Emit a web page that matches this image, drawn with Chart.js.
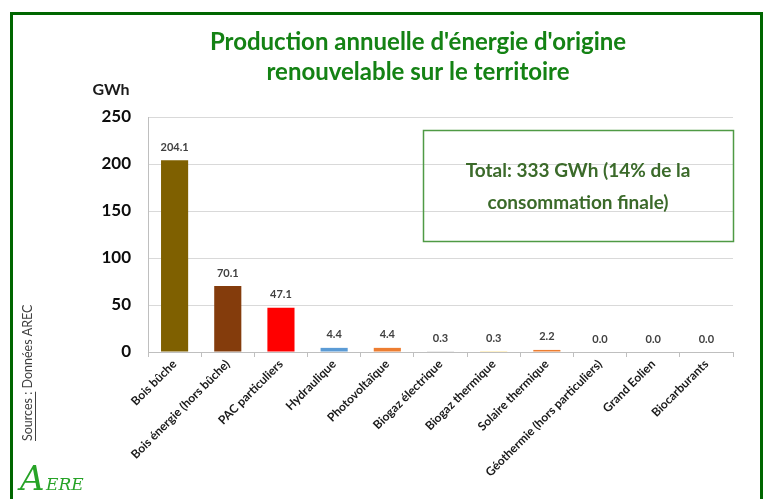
<!DOCTYPE html>
<html>
<head>
<meta charset="utf-8">
<script src="https://cdn.jsdelivr.net/npm/chart.js@4/dist/chart.umd.min.js"></script>
<style>
  html, body { margin: 0; padding: 0; background: #fff; }
  #chart { display: block; }
</style>
</head>
<body>
<canvas id="chart" width="764" height="499"></canvas>
<script>
// Production annuelle d'énergie renouvelable (GWh)
const categories = [
    'Bois bûche', 'Bois énergie (hors bûche)', 'PAC particuliers', 'Hydraulique',
    'Photovoltaïque', 'Biogaz électrique', 'Biogaz thermique', 'Solaire thermique',
    'Géothermie (hors particuliers)', 'Grand Eolien', 'Biocarburants'
];
const values = [204.1, 70.1, 47.1, 4.4, 4.4, 0.3, 0.3, 2.2, 0.0, 0.0, 0.0];
const barColors = [
    '#7f6000', '#843c0c', '#ff0000', '#5b9bd5', '#ed7d31', '#a5a5a5',
    '#ffc000', '#ed7d31', '#4472c4', '#70ad47', '#264478'
];
const yTicks = [0, 50, 100, 150, 200, 250];
const titleLines = ["Production annuelle d'énergie d'origine", 'renouvelable sur le territoire'];
const totalLines = ['Total: 333 GWh (14% de la', 'consommation finale)'];

const FONT = 'Lato, "Open Sans", sans-serif';

// Frame, titles, total box, source and logo
const decorPlugin = {
    id: 'decor',
    beforeDraw(chart) {
        const ctx = chart.ctx;
        ctx.save();
        ctx.fillStyle = '#fff';
        ctx.fillRect(0, 0, chart.width, chart.height);
        ctx.strokeStyle = '#006600';
        ctx.lineWidth = 3;
        ctx.strokeRect(11.5, 13.5, 750, 500);
        ctx.restore();
    },
    afterDraw(chart) {
        const ctx = chart.ctx;
        ctx.save();
        ctx.textAlign = 'center';
        ctx.textBaseline = 'middle';

        // title
        ctx.fillStyle = '#148214';
        ctx.font = 'bold 24px ' + FONT;
        ctx.fillText(titleLines[0], 418, 42);
        ctx.fillText(titleLines[1], 418, 72);

        // unit
        ctx.fillStyle = '#1a1a1a';
        ctx.font = 'bold 16px ' + FONT;
        ctx.fillText('GWh', 111, 90);

        // total box
        ctx.strokeStyle = '#4f9a45';
        ctx.lineWidth = 1.5;
        ctx.strokeRect(423.5, 130.5, 310, 111);
        ctx.fillStyle = '#3b6a2a';
        ctx.font = 'bold 19px ' + FONT;
        ctx.fillText(totalLines[0], 578, 171);
        ctx.fillText(totalLines[1], 578, 203);

        // source (vertical)
        ctx.save();
        ctx.translate(28, 441);
        ctx.rotate(-Math.PI / 2);
        ctx.textAlign = 'left';
        ctx.fillStyle = '#404040';
        ctx.font = '12.5px ' + FONT;
        const part1 = 'Sources :';
        ctx.fillText(part1 + ' Données AREC', 0, 0);
        const w1 = ctx.measureText(part1).width;
        ctx.fillRect(0, 7, w1, 1);
        ctx.restore();

        // logo
        ctx.fillStyle = '#27a327';
        ctx.textAlign = 'left';
        ctx.textBaseline = 'alphabetic';
        ctx.font = 'italic 34px "DejaVu Serif", serif';
        ctx.fillText('A', 20, 490);
        ctx.font = 'italic 17px "DejaVu Serif", serif';
        ctx.fillText('ERE', 46, 490);
        ctx.restore();
    }
};

// Value labels above bars
const valueLabels = {
    id: 'valueLabels',
    afterDatasetsDraw(chart) {
        const ctx = chart.ctx;
        const meta = chart.getDatasetMeta(0);
        ctx.save();
        ctx.fillStyle = '#404040';
        ctx.font = 'bold 11px ' + FONT;
        ctx.textAlign = 'center';
        ctx.textBaseline = 'middle';
        meta.data.forEach((bar, i) => {
            ctx.fillText(values[i].toFixed(1), bar.x, bar.y - 13);
        });
        ctx.restore();
    }
};

new Chart(document.getElementById('chart'), {
    type: 'bar',
    data: {
        labels: categories,
        datasets: [{
            data: values,
            backgroundColor: barColors,
            categoryPercentage: 1,
            barPercentage: 0.51
        }]
    },
    options: {
        responsive: false,
        animation: false,
        layout: { padding: { left: 0, top: 117, right: 31, bottom: 0 } },
        plugins: {
            legend: { display: false },
            tooltip: { enabled: false }
        },
        scales: {
            x: {
                afterFit: (s) => { s.height = 147; },
                grid: {
                    drawOnChartArea: false,
                    drawTicks: true,
                    tickLength: 5,
                    color: '#bfbfbf'
                },
                border: { color: '#bfbfbf' },
                ticks: {
                    minRotation: 45,
                    maxRotation: 45,
                    autoSkip: false,
                    padding: 0,
                    color: '#1a1a1a',
                    font: { family: FONT, size: 12, weight: 'bold' }
                }
            },
            y: {
                min: 0,
                max: 250,
                afterFit: (s) => { s.width = 148; },
                afterBuildTicks: (s) => { s.ticks = yTicks.map(v => ({ value: v })); },
                grid: { color: '#d9d9d9', drawTicks: false },
                border: { color: '#bfbfbf' },
                ticks: {
                    padding: 17,
                    color: '#0d0d0d',
                    font: { family: FONT, size: 17, weight: 'bold' }
                }
            }
        }
    },
    plugins: [decorPlugin, valueLabels]
});
</script>
</body>
</html>
